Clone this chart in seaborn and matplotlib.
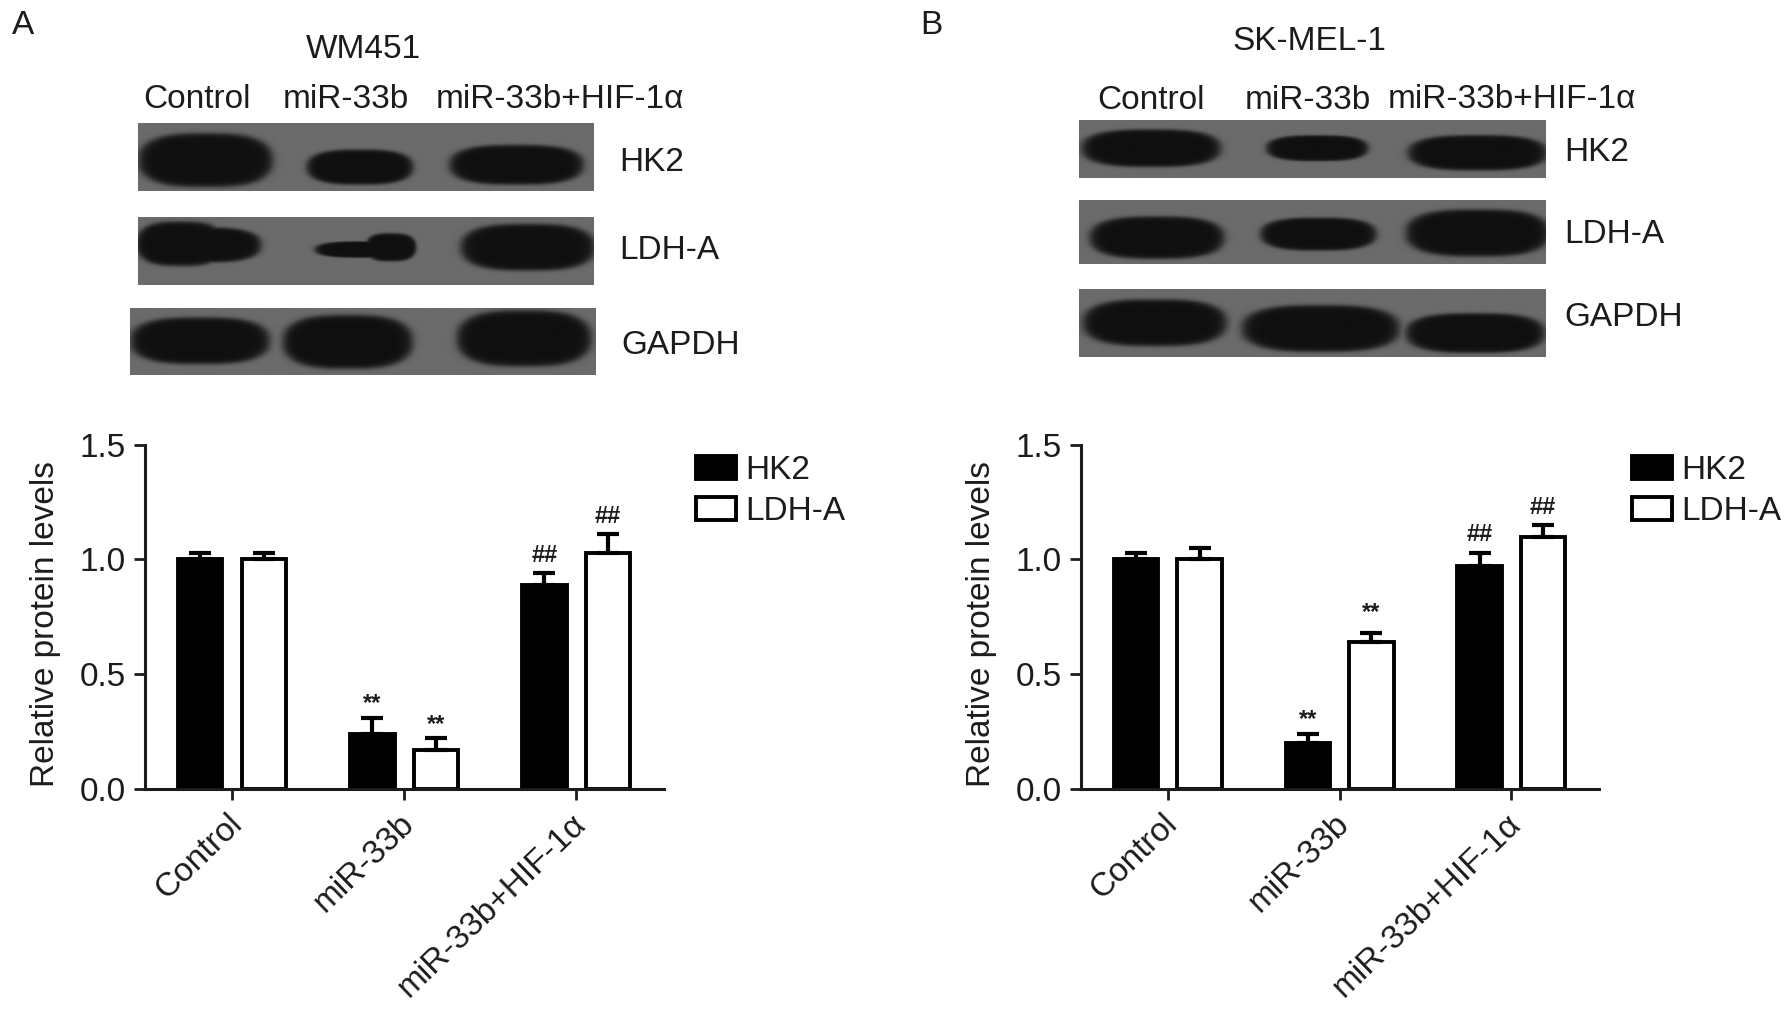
import numpy as np
import pandas as pd
import seaborn as sns
import matplotlib
matplotlib.use("Agg")
import matplotlib.pyplot as plt
from matplotlib.transforms import ScaledTranslation

# ---------- data ----------
groups = ["Control", "miR-33b", "miR-33b+HIF-1α"]
series = ["HK2", "LDH-A"]
a_hk2 = [1.00, 0.24, 0.89]
a_ldh = [1.00, 0.17, 1.03]
a_hk2_err = [0.03, 0.07, 0.05]
a_ldh_err = [0.03, 0.05, 0.08]
a_hk2_marks = ["", "**", "##"]
a_ldh_marks = ["", "**", "##"]
b_hk2 = [1.00, 0.20, 0.97]
b_ldh = [1.00, 0.64, 1.10]
b_hk2_err = [0.03, 0.04, 0.06]
b_ldh_err = [0.05, 0.04, 0.05]
b_hk2_marks = ["", "**", "##"]
b_ldh_marks = ["", "**", "##"]

# western-blot panels: (x0, y0, x1, y1) and bands (cx, cy, half-width, half-height)
blots = [
    ((121, 108, 520, 167), [(180, 140, 58, 23), (315, 146, 46, 15), (452, 144, 58, 17)]),
    ((121, 190, 520, 249), [(158, 213, 38, 19), (178, 214, 50, 15), (342, 216, 22, 12), (318, 218, 42, 7), (462, 216, 58, 20)]),
    ((114, 269, 521, 328), [(175, 298, 60, 20), (304, 299, 56, 23), (458, 296, 58, 24)]),
    ((944, 105, 1352, 156), [(1007, 130, 60, 16), (1152, 130, 44, 11), (1292, 134, 60, 15)]),
    ((944, 175, 1352, 231), [(1012, 208, 58, 18), (1153, 205, 50, 14), (1292, 204, 62, 20)]),
    ((944, 253, 1352, 312), [(1010, 282, 62, 20), (1155, 287, 68, 20), (1290, 291, 60, 17)]),
]
texts = [
    ("A", 20, 22, "center"), ("B", 815, 22, "center"),
    ("WM451", 318, 43, "center"), ("SK-MEL-1", 1146, 36, "center"),
    ("Control", 172, 87, "center"), ("miR-33b", 303, 87, "center"), ("miR-33b+HIF-1α", 490, 87, "center"),
    ("Control", 1007, 88, "center"), ("miR-33b", 1144, 88, "center"), ("miR-33b+HIF-1α", 1323, 87, "center"),
    ("HK2", 542, 142, "left"), ("LDH-A", 542, 219, "left"), ("GAPDH", 544, 302, "left"),
    ("HK2", 1369, 133, "left"), ("LDH-A", 1369, 205, "left"), ("GAPDH", 1369, 278, "left"),
]

# ---------- style ----------
sns.set_theme(style="ticks")
plt.rcParams["font.family"] = ["Liberation Sans", "DejaVu Sans"]
INK = "#1c1c1c"
FS = 24
W, H = 1568, 886
fig = plt.figure(figsize=(17.92, 10.13), dpi=100, facecolor="white")


def px_axes(x0, y0, x1, y1):
    return fig.add_axes([x0 / W, 1 - y1 / H, (x1 - x0) / W, (y1 - y0) / H])


# ---------- blots ----------
for (x0, y0, x1, y1), bands in blots:
    ax = px_axes(x0, y0, x1, y1)
    xs, ys = np.meshgrid(np.arange(x0, x1, 0.5), np.arange(y0, y1, 0.5))
    dark = np.zeros_like(xs)
    for cx, cy, hw, hh in bands:
        d = (np.abs(xs - cx) / hw) ** 3 + (np.abs(ys - cy) / hh) ** 2.4
        dark = np.maximum(dark, 1 / (1 + np.exp((d - 1) * 8)))
    img = 0.42 * (1 - dark) + 0.06 * dark
    ax.imshow(img, cmap="gray", vmin=0, vmax=1, aspect="auto", interpolation="bilinear")
    ax.axis("off")

for s, x, y, ha in texts:
    fig.text(x / W, 1 - y / H, s, ha=ha, va="center", fontsize=FS, color=INK)


# ---------- bar charts ----------
def bars(box, hk2, ldh, hk2_err, ldh_err, hk2_marks, ldh_marks, legend_xy, star_offsets):
    ax = px_axes(*box)
    df = pd.DataFrame({
        "group": groups * 2,
        "series": [series[0]] * 3 + [series[1]] * 3,
        "value": list(hk2) + list(ldh),
    })
    sns.barplot(data=df, x="group", y="value", hue="series", order=groups, hue_order=series,
                palette=["black", "white"], edgecolor="black", linewidth=2.8,
                width=0.74, gap=0.30, saturation=1, errorbar=None, ax=ax, legend=True)
    errs = list(hk2_err) + list(ldh_err)
    marks = list(hk2_marks) + list(ldh_marks)
    vals = list(hk2) + list(ldh)
    for i, (patch, v, e, m) in enumerate(zip(ax.patches[:6], vals, errs, marks)):
        xc = patch.get_x() + patch.get_width() / 2
        ax.errorbar(xc, v, yerr=[[0], [e]], color="black", elinewidth=3, capsize=8, capthick=3, zorder=1)
        if m:
            off = star_offsets[i] if m == "**" else 13
            ax.annotate(m, (xc, v + e), xytext=(0, off), textcoords="offset points",
                        ha="center", va="center", fontsize=17, fontweight="bold", color=INK)
    ax.set_xlim(-0.505, 2.51)
    ax.set_ylim(0, 1.5)
    ax.set_yticks([0, 0.5, 1.0, 1.5])
    ax.set_yticklabels(["0.0", "0.5", "1.0", "1.5"])
    ax.set_ylabel("Relative protein levels", fontsize=FS, color=INK, labelpad=13, y=0.48)
    ax.set_xlabel("")
    ax.tick_params(axis="y", labelsize=FS, length=8, width=2, colors=INK, pad=6)
    ax.tick_params(axis="x", labelsize=FS, length=8, width=2, colors=INK, pad=6)
    plt.setp(ax.get_xticklabels(), rotation=44, ha="right", rotation_mode="anchor")
    shift = ScaledTranslation(-4 / 72, 0, fig.dpi_scale_trans)
    for lab in ax.get_xticklabels():
        lab.set_transform(lab.get_transform() + shift)
    ax.patch.set_alpha(0)
    sns.despine(ax=ax)
    for sp in ("left", "bottom"):
        ax.spines[sp].set_linewidth(2.2)
        ax.spines[sp].set_color(INK)
    h, l = ax.get_legend_handles_labels()
    ax.get_legend().remove()
    ax.legend(h, l, loc="upper left", bbox_to_anchor=(legend_xy[0] / W, 1 - legend_xy[1] / H),
              bbox_transform=fig.transFigure, frameon=False, fontsize=FS, handlelength=1.2,
              handleheight=0.7, handletextpad=0.27, labelspacing=0.3, borderpad=0, borderaxespad=0,
              labelcolor=INK)
    return ax


bars((127, 389, 581, 690), a_hk2, a_ldh, a_hk2_err, a_ldh_err, a_hk2_marks, a_ldh_marks, (609, 398),
     [10, 10, 10, 10, 10, 10])
bars((946, 389, 1399, 690), b_hk2, b_ldh, b_hk2_err, b_ldh_err, b_hk2_marks, b_ldh_marks, (1428, 398),
     [10, 10, 10, 15, 15, 15])

fig.savefig("out.png", dpi=100, facecolor="white")
